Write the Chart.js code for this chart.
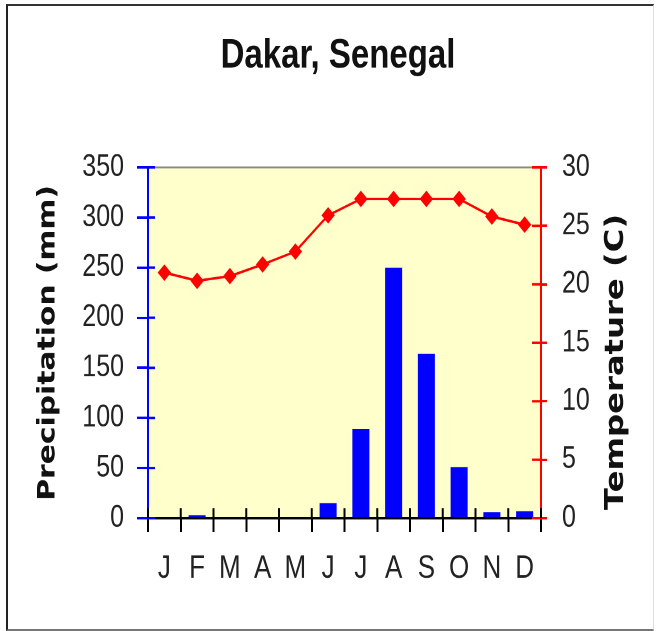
<!DOCTYPE html>
<html>
<head>
<meta charset="utf-8">
<script src="https://cdn.jsdelivr.net/npm/chart.js@4/dist/chart.umd.min.js"></script>
<style>
  html, body { margin: 0; padding: 0; background: #fff; }
  #page { position: relative; width: 660px; height: 631px; overflow: hidden; }
  #frame {
    position: absolute; left: 6px; top: 4px; width: 645px; height: 623px;
    border-left: 2px solid #222; border-top: 2px solid #333;
    border-bottom: 2px solid #777; border-right: 1px solid #ddd;
  }
  /* the source picture is a chart stretched vertically, so draw it at 509px and stretch */
  #wrap {
    position: absolute; left: 0; top: 0; width: 660px; height: 509px;
    transform-origin: 0 0; transform: scaleY(1.2397);
  }
</style>
</head>
<body>
<div id="page">
  <div id="frame"></div>
  <div id="wrap"><canvas id="chart" width="660" height="509"></canvas></div>
</div>
<script>
// Dakar climate chart
const months = ['J', 'F', 'M', 'A', 'M', 'J', 'J', 'A', 'S', 'O', 'N', 'D'];
const precipitation = [0, 3, 0, 0, 0, 15, 89, 250, 164, 51, 6, 7];   // mm
const temperature = [21.0, 20.3, 20.7, 21.7, 22.8, 25.9, 27.3, 27.3, 27.3, 27.3, 25.8, 25.1]; // C

const SANS = '"Liberation Sans", Arial, sans-serif';
const WIDE = '"DejaVu Sans", Verdana, sans-serif';

// yellow plot area + grey top edge
const plotBg = {
  id: 'plotBg',
  beforeDraw(chart) {
    const { ctx, chartArea: a } = chart;
    ctx.save();
    ctx.fillStyle = '#FFFFCC';
    ctx.fillRect(a.left, a.top, a.right - a.left, a.bottom - a.top);
    ctx.strokeStyle = '#888';
    ctx.lineWidth = 1.5;
    ctx.beginPath();
    ctx.moveTo(a.left, a.top);
    ctx.lineTo(a.right, a.top);
    ctx.stroke();
    ctx.restore();
  }
};

// tick marks that poke inside the plot, like the old spreadsheet charts
const innerTicks = {
  id: 'innerTicks',
  beforeDatasetsDraw(chart) {
    const { ctx, chartArea: a, scales } = chart;
    ctx.save();
    ctx.lineWidth = 2;

    ctx.strokeStyle = '#0000FF';
    scales.y.ticks.forEach((t, i) => {
      const py = scales.y.getPixelForTick(i);
      ctx.beginPath(); ctx.moveTo(a.left, py); ctx.lineTo(a.left + 7, py); ctx.stroke();
    });

    ctx.strokeStyle = '#FF0000';
    scales.y1.ticks.forEach((t, i) => {
      const py = scales.y1.getPixelForTick(i);
      ctx.beginPath(); ctx.moveTo(a.right, py); ctx.lineTo(a.right - 9, py); ctx.stroke();
    });

    ctx.strokeStyle = '#000';
    const x = scales.x;
    for (let i = 0; i <= months.length; i++) {
      const px = x.getPixelForValue(i - 0.5);
      ctx.beginPath(); ctx.moveTo(px, a.bottom); ctx.lineTo(px, a.bottom - 8); ctx.stroke();
    }
    ctx.restore();
  }
};

// right axis title reads bottom-to-top in the original
const rightTitle = {
  id: 'rightTitle',
  afterDraw(chart) {
    const { ctx } = chart;
    ctx.save();
    ctx.translate(616, 292);
    ctx.rotate(-Math.PI / 2);
    ctx.font = 'bold 26px ' + WIDE;
    ctx.fillStyle = '#111';
    ctx.textAlign = 'center';
    ctx.textBaseline = 'middle';
    ctx.fillText('Temperature (C)', 0, 0);
    ctx.restore();
  }
};

new Chart(document.getElementById('chart'), {
  data: {
    labels: months,
    datasets: [
      {
        type: 'line',
        label: 'Temperature',
        data: temperature,
        yAxisID: 'y1',
        order: 0,
        borderColor: '#FF0000',
        backgroundColor: '#FF0000',
        borderWidth: 2,
        tension: 0,
        pointStyle: 'rectRot',
        pointRadius: 6,
        pointBorderWidth: 1
      },
      {
        type: 'bar',
        label: 'Precipitation',
        data: precipitation,
        yAxisID: 'y',
        order: 1,
        backgroundColor: '#0000FF',
        barPercentage: 0.52,
        categoryPercentage: 1
      }
    ]
  },
  options: {
    responsive: false,
    animation: false,
    devicePixelRatio: 2,
    layout: { padding: { left: 16, right: 0, top: 0, bottom: 0 } },
    plugins: {
      legend: { display: false },
      tooltip: { enabled: false },
      title: {
        display: true,
        text: 'Dakar, Senegal',
        color: '#111',
        font: { family: SANS, size: 33, weight: 'bold', lineHeight: 1 },
        padding: { top: 29, bottom: 73 }
      }
    },
    scales: {
      x: {
        type: 'category',
        offset: true,
        afterFit(s) { s.height = 91; },
        border: { color: '#000', width: 2 },
        grid: { offset: true, drawOnChartArea: false, color: '#000', lineWidth: 2, tickLength: 11 },
        ticks: { color: '#222', font: { family: SANS, size: 26 }, padding: 14, maxRotation: 0, autoSkip: false }
      },
      y: {
        position: 'left',
        min: 0, max: 350,
        afterFit(s) { s.width = 132; },
        border: { color: '#0000FF', width: 2 },
        grid: { drawOnChartArea: false, color: '#0000FF', lineWidth: 2, tickLength: 11 },
        ticks: { stepSize: 50, color: '#222', font: { family: SANS, size: 25 }, padding: 13 },
        title: {
          display: true,
          text: 'Precipitation (mm)',
          color: '#111',
          font: { family: WIDE, size: 24, weight: 'bold', lineHeight: 1.2 },
          padding: { top: 18, bottom: 0 }
        }
      },
      y1: {
        position: 'right',
        min: 0, max: 30,
        afterFit(s) { s.width = 119; },
        border: { color: '#FF0000', width: 2 },
        grid: { drawOnChartArea: false, color: '#FF0000', lineWidth: 2, tickLength: 6 },
        ticks: { stepSize: 5, color: '#222', font: { family: SANS, size: 25 }, padding: 15 }
      }
    }
  },
  plugins: [plotBg, innerTicks, rightTitle]
});
</script>
</body>
</html>
